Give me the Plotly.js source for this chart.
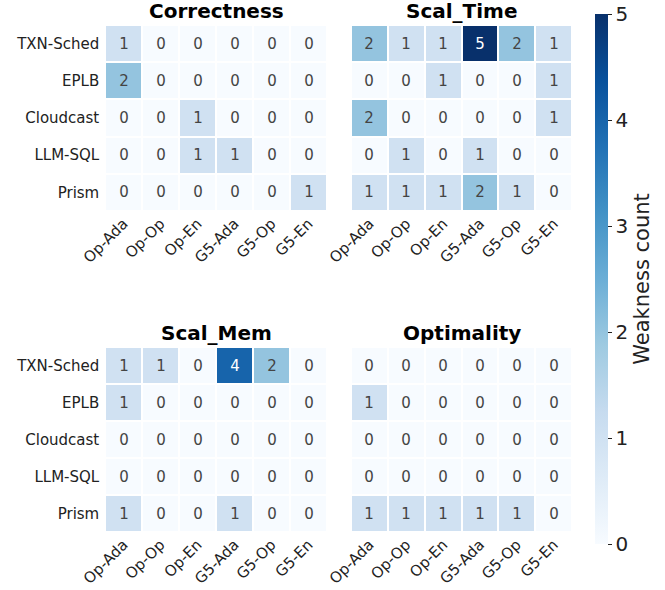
<!DOCTYPE html>
<html>
<head>
<meta charset="utf-8">
<script src="https://cdn.plot.ly/plotly-3.0.1.min.js"></script>
<style>html,body{margin:0;padding:0;background:#fff;}#chart{width:665px;height:590px;}</style>
</head>
<body>
<div id="chart"></div>
<script>
const rows = ["TXN-Sched", "EPLB", "Cloudcast", "LLM-SQL", "Prism"];
const cols = ["Op-Ada", "Op-Op", "Op-En", "G5-Ada", "G5-Op", "G5-En"];
const panelTitles = ["Correctness", "Scal_Time", "Scal_Mem", "Optimality"];
const correctness = [[1,0,0,0,0,0],[2,0,0,0,0,0],[0,0,1,0,0,0],[0,0,1,1,0,0],[0,0,0,0,0,1]];
const scalTime = [[2,1,1,5,2,1],[0,0,1,0,0,1],[2,0,0,0,0,1],[0,1,0,1,0,0],[1,1,1,2,1,0]];
const scalMem = [[1,1,0,4,2,0],[1,0,0,0,0,0],[0,0,0,0,0,0],[0,0,0,0,0,0],[1,0,0,1,0,0]];
const optimality = [[0,0,0,0,0,0],[1,0,0,0,0,0],[0,0,0,0,0,0],[0,0,0,0,0,0],[1,1,1,1,1,0]];
const panels = [correctness, scalTime, scalMem, optimality];

const blues = [
  [0, "#f7fbff"], [0.125, "#deebf7"], [0.25, "#c6dbef"], [0.375, "#9ecae1"],
  [0.5, "#6baed6"], [0.625, "#4292c6"], [0.75, "#2171b5"], [0.875, "#08519c"], [1, "#08306b"]
];
const W = 665, H = 590;
const xDom = [[105/W, 327/W], [351/W, 572/W]];
const yDom = [[1-211/H, 1-25/H], [1-532/H, 1-347/H]];
const font = "DejaVu Sans, sans-serif";

const traces = [];
const layout = {
  width: W, height: H, margin: {l:0, r:0, t:0, b:0, autoexpand: false},
  paper_bgcolor: "#fff", plot_bgcolor: "#fff",
  font: {family: font, color: "#222"},
  showlegend: false,
  coloraxis: {
    cmin: 0, cmax: 5, colorscale: blues,
    colorbar: {
      x: 595/W, xanchor: "left", y: 1-279/H, yanchor: "middle", xpad: 0, ypad: 0,
      thickness: 13, thicknessmode: "pixels", len: 530, lenmode: "pixels",
      outlinewidth: 0, ticks: "outside", ticklen: 4, tickcolor: "#222",
      tickvals: [0,1,2,3,4,5], tickfont: {size: 20, family: font, color: "#222"},
      title: {text: "Weakness count", side: "right", font: {size: 21, family: font, color: "#222"}}
    }
  },
  annotations: []
};

panels.forEach((z, i) => {
  const r = Math.floor(i/2), c = i % 2;
  const s = i === 0 ? "" : String(i+1);
  traces.push({
    type: "heatmap", z: z, x: cols, y: rows, coloraxis: "coloraxis",
    xaxis: "x"+s, yaxis: "y"+s, xgap: 2, ygap: 2,
    texttemplate: "%{z}", textfont: {size: 15, family: font},
    hoverongaps: false
  });
  layout["xaxis"+s] = {
    domain: xDom[c], anchor: "y"+s, type: "category", tickangle: -45,
    tickfont: {size: 15, family: font, color: "#222"}, showgrid: false, zeroline: false,
    ticks: "", showline: false, automargin: false
  };
  layout["yaxis"+s] = {
    domain: yDom[r], anchor: "x"+s, type: "category", autorange: "reversed",
    tickfont: {size: 15, family: font, color: "#222"}, showgrid: false, zeroline: false,
    ticks: "", showline: false, showticklabels: c === 0, ticksuffix: " ", automargin: false
  };
  layout.annotations.push({
    text: panelTitles[i], xref: "paper", yref: "paper", xanchor: "center",
    x: (xDom[c][0]+xDom[c][1])/2, y: yDom[r][1], yanchor: "bottom", yshift: 0,
    showarrow: false, font: {size: 20, family: font, weight: "bold", color: "#000"}
  });
});

Plotly.newPlot("chart", traces, layout, {displayModeBar: false});
</script>
</body>
</html>
